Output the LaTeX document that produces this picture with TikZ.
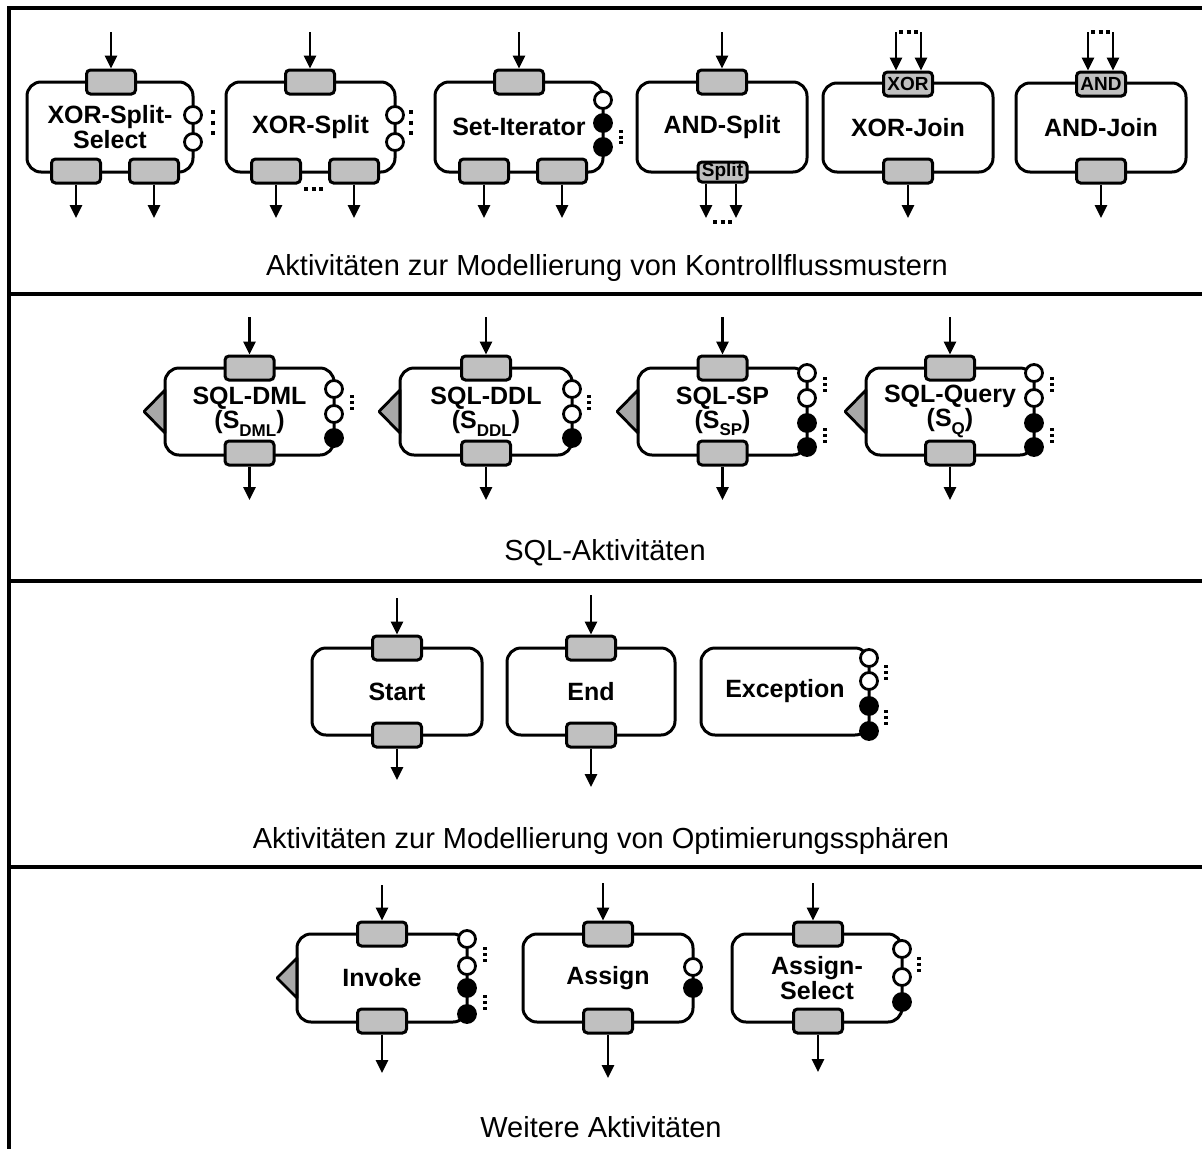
\documentclass[tikz,border=0pt]{standalone}
\usepackage{fontspec}
\setmainfont{Liberation Sans}
\usetikzlibrary{arrows.meta}

\definecolor{portgray}{HTML}{C0C0C0}
\definecolor{tipgray}{HTML}{A8A8A8}

% lowered index text, e.g. S_DML
\newcommand\lowidx[1]{\raisebox{-0.3em}{\fontsize{17}{17}\selectfont #1}}

\tikzset{
  frame/.style={line width=3.2pt},
  body/.style={draw, line width=3pt, rounded corners=14pt, inner sep=0pt,
    align=center, font=\bfseries\fontsize{25}{23}\selectfont},
  port/.style={draw, fill=portgray, line width=3pt, rounded corners=4pt,
    minimum width=49pt, minimum height=24pt, inner sep=0pt,
    font=\bfseries\fontsize{19}{19}\selectfont},
  flow/.style={line width=2.6pt, -{Triangle[length=13pt,width=12pt]}},
  wcirc/.style={circle, draw, fill=white, line width=2.8pt, minimum size=17pt, inner sep=0pt},
  bcirc/.style={wcirc, fill=black},
  bigdots/.style={line width=4pt, dash pattern=on 4pt off 6.5pt},
  hdots/.style={line width=4pt, dash pattern=on 4pt off 3.5pt},
  smalldots/.style={line width=3.2pt, dash pattern=on 3pt off 3pt},
  service/.style={draw, fill=tipgray, line width=2.8pt, line join=round},
  caption/.style={font=\fontsize{29}{31}\selectfont},
}

\begin{document}
\begin{tikzpicture}[x=1pt, y=-1pt]
\useasboundingbox (0,0) rectangle (1202,1149);

% ---------- frame and section rules ----------
\draw[frame] (1202,8) -- (9,8) -- (9,1149);
\draw[frame] (9,294) -- (1202,294);
\draw[frame] (9,581) -- (1202,581);
\draw[frame] (9,867) -- (1202,867);

% ================= control flow patterns =================
% XOR-Split-Select
\node[body, minimum width=166pt, minimum height=90pt] (xss) at (110,127) {XOR-Split-\\Select};
\node[port] (xss-in) at (111,82) {};
\node[port] (xss-o1) at (76,171) {};
\node[port] (xss-o2) at (154,171) {};
\node[wcirc] (xss-c1) at (193,115) {};
\node[wcirc] (xss-c2) at (193,142) {};
\coordinate (xss-src) at (111,32);
\coordinate (xss-t1) at (76,218);
\coordinate (xss-t2) at (154,218);
\draw[flow] (xss-src) -- (xss-in);
\draw[flow] (xss-o1) -- (xss-t1);
\draw[flow] (xss-o2) -- (xss-t2);
\draw[bigdots] (213,110) -- (213,135);

% XOR-Split
\node[body, minimum width=169pt, minimum height=90pt] (xs) at (310.5,127) {XOR-Split};
\node[port] (xs-in) at (310,82) {};
\node[port] (xs-o1) at (276,171) {};
\node[port] (xs-o2) at (354,171) {};
\node[wcirc] (xs-c1) at (395,115) {};
\node[wcirc] (xs-c2) at (395,142) {};
\coordinate (xs-src) at (310,32);
\coordinate (xs-t1) at (276,218);
\coordinate (xs-t2) at (354,218);
\draw[flow] (xs-src) -- (xs-in);
\draw[flow] (xs-o1) -- (xs-t1);
\draw[flow] (xs-o2) -- (xs-t2);
\draw[bigdots] (411,110) -- (411,135);
\draw[hdots] (304,189) -- (323,189);

% Set-Iterator
\node[body, minimum width=168pt, minimum height=90pt] (si) at (519,127) {Set-Iterator};
\node[port] (si-in) at (519,82) {};
\node[port] (si-o1) at (484,171) {};
\node[port] (si-o2) at (562,171) {};
\node[wcirc] (si-c1) at (603,100) {};
\node[bcirc] (si-c2) at (603,123) {};
\node[bcirc] (si-c3) at (603,147) {};
\coordinate (si-src) at (519,32);
\coordinate (si-t1) at (484,218);
\coordinate (si-t2) at (562,218);
\draw[flow] (si-src) -- (si-in);
\draw[flow] (si-o1) -- (si-t1);
\draw[flow] (si-o2) -- (si-t2);
\draw[line width=3.5pt, dash pattern=on 3pt off 2.5pt] (621,130) -- (621,144);

% AND-Split
\node[body, minimum width=170pt, minimum height=90pt] (as) at (722,127) {AND-Split};
\node[port] (as-in) at (722,82) {};
\node[port, minimum height=20pt] (as-out) at (722.5,172) {Split};
\coordinate (as-src) at (722,32);
\coordinate (as-t1) at (706,218);
\coordinate (as-t2) at (736,218);
\draw[flow] (as-src) -- (as-in);
\draw[flow] (as-out.south -| as-t1) -- (as-t1);
\draw[flow] (as-out.south -| as-t2) -- (as-t2);
\draw[hdots] (713,222) -- (732,222);

% XOR-Join
\node[body, minimum width=170pt, minimum height=89pt] (xj) at (908,127.5) {XOR-Join};
\node[port] (xj-in) at (908,84) {XOR};
\node[port] (xj-out) at (908,171) {};
\coordinate (xj-s1) at (896,32);
\coordinate (xj-s2) at (921,32);
\coordinate (xj-t) at (908,218);
\draw[flow] (xj-s1) -- (xj-s1 |- xj-in.north);
\draw[flow] (xj-s2) -- (xj-s2 |- xj-in.north);
\draw[hdots, shorten <=3pt, shorten >=3pt] (xj-s1) -- (xj-s2);
\draw[flow] (xj-out) -- (xj-t);

% AND-Join
\node[body, minimum width=170pt, minimum height=89pt] (aj) at (1101,127.5) {AND-Join};
\node[port] (aj-in) at (1101,84) {AND};
\node[port] (aj-out) at (1101,171) {};
\coordinate (aj-s1) at (1088,32);
\coordinate (aj-s2) at (1113,32);
\coordinate (aj-t) at (1101,218);
\draw[flow] (aj-s1) -- (aj-s1 |- aj-in.north);
\draw[flow] (aj-s2) -- (aj-s2 |- aj-in.north);
\draw[hdots, shorten <=3pt, shorten >=3pt] (aj-s1) -- (aj-s2);
\draw[flow] (aj-out) -- (aj-t);

\node[caption] (cap1) at (607,268) {Aktivitäten zur Modellierung von Kontrollflussmustern};

% ================= SQL activities =================
% SQL-DML
\filldraw[service] (165,390) -- (144,411.5) -- (165,433) -- cycle;
\node[body, minimum width=169pt, minimum height=87pt] (dml) at (249.5,411.5) {SQL-DML\\(S\lowidx{DML})};
\node[port] (dml-in) at (249.5,368) {};
\node[port] (dml-out) at (249.5,453) {};
\node[wcirc] (dml-c1) at (334,389) {};
\node[wcirc] (dml-c2) at (334,414) {};
\node[bcirc] (dml-c3) at (334,438) {};
\coordinate (dml-src) at (249.5,317);
\coordinate (dml-t) at (249.5,500);
\draw[flow] (dml-src) -- (dml-in);
\draw[flow] (dml-out) -- (dml-t);
\draw[smalldots] (352,395) -- (352,410);

% SQL-DDL
\filldraw[service] (400,390) -- (379,411.5) -- (400,433) -- cycle;
\node[body, minimum width=172pt, minimum height=87pt] (ddl) at (486,411.5) {SQL-DDL\\(S\lowidx{DDL})};
\node[port] (ddl-in) at (486,368) {};
\node[port] (ddl-out) at (486,453) {};
\node[wcirc] (ddl-c1) at (572,389) {};
\node[wcirc] (ddl-c2) at (572,414) {};
\node[bcirc] (ddl-c3) at (572,438) {};
\coordinate (ddl-src) at (486,317);
\coordinate (ddl-t) at (486,500);
\draw[flow] (ddl-src) -- (ddl-in);
\draw[flow] (ddl-out) -- (ddl-t);
\draw[smalldots] (589,395) -- (589,410);

% SQL-SP
\filldraw[service] (638,390) -- (617,411.5) -- (638,433) -- cycle;
\node[body, minimum width=169pt, minimum height=87pt] (sp) at (722.5,411.5) {SQL-SP\\(S\lowidx{SP})};
\node[port] (sp-in) at (722.5,368) {};
\node[port] (sp-out) at (722.5,453) {};
\node[wcirc] (sp-c1) at (807,373) {};
\node[wcirc] (sp-c2) at (807,398) {};
\node[bcirc] (sp-c3) at (807,423) {};
\node[bcirc] (sp-c4) at (807,447) {};
\coordinate (sp-src) at (722.5,317);
\coordinate (sp-t) at (722.5,500);
\draw[flow] (sp-src) -- (sp-in);
\draw[flow] (sp-out) -- (sp-t);
\draw[smalldots] (825,377) -- (825,392);
\draw[smalldots] (825,428) -- (825,443);

% SQL-Query
\filldraw[service] (866,390) -- (845,411.5) -- (866,433) -- cycle;
\node[body, minimum width=168pt, minimum height=87pt] (sq) at (950,411.5) {SQL-Query\\(S\lowidx{Q})};
\node[port] (sq-in) at (950,368) {};
\node[port] (sq-out) at (950,453) {};
\node[wcirc] (sq-c1) at (1034,373) {};
\node[wcirc] (sq-c2) at (1034,398) {};
\node[bcirc] (sq-c3) at (1034,423) {};
\node[bcirc] (sq-c4) at (1034,447) {};
\coordinate (sq-src) at (950,317);
\coordinate (sq-t) at (950,500);
\draw[flow] (sq-src) -- (sq-in);
\draw[flow] (sq-out) -- (sq-t);
\draw[smalldots] (1052,377) -- (1052,392);
\draw[smalldots] (1052,428) -- (1052,443);

\node[caption] (cap2) at (605,553) {SQL-Aktivitäten};

% ================= optimization spheres =================
% Start
\node[body, minimum width=170pt, minimum height=87pt] (st) at (397,691.5) {Start};
\node[port] (st-in) at (397,648) {};
\node[port] (st-out) at (397,735) {};
\coordinate (st-src) at (397,598);
\coordinate (st-t) at (397,780);
\draw[flow] (st-src) -- (st-in);
\draw[flow] (st-out) -- (st-t);

% End
\node[body, minimum width=168pt, minimum height=87pt] (en) at (591,691.5) {End};
\node[port] (en-in) at (591,648) {};
\node[port] (en-out) at (591,735) {};
\coordinate (en-src) at (591,595);
\coordinate (en-t) at (591,787);
\draw[flow] (en-src) -- (en-in);
\draw[flow] (en-out) -- (en-t);

% Exception
\node[body, minimum width=168pt, minimum height=87pt] (ex) at (785,691.5) {Exception};
\node[wcirc] (ex-c1) at (869,658) {};
\node[wcirc] (ex-c2) at (869,681) {};
\node[bcirc] (ex-c3) at (869,706) {};
\node[bcirc] (ex-c4) at (869,731) {};
\draw[smalldots] (886,665) -- (886,680);
\draw[smalldots] (886,710) -- (886,725);

\node[caption] (cap3) at (601,841) {Aktivitäten zur Modellierung von Optimierungssphären};

% ================= further activities =================
% Invoke
\filldraw[service] (297,958) -- (277,978) -- (297,998) -- cycle;
\node[body, minimum width=170pt, minimum height=88pt] (inv) at (382,978) {Invoke};
\node[port] (inv-in) at (382,934) {};
\node[port] (inv-out) at (382,1021) {};
\node[wcirc] (inv-c1) at (467,939) {};
\node[wcirc] (inv-c2) at (467,966) {};
\node[bcirc] (inv-c3) at (467,988) {};
\node[bcirc] (inv-c4) at (467,1014) {};
\coordinate (inv-src) at (382,885);
\coordinate (inv-t) at (382,1073);
\draw[flow] (inv-src) -- (inv-in);
\draw[flow] (inv-out) -- (inv-t);
\draw[smalldots] (485,947) -- (485,962);
\draw[smalldots] (485,995) -- (485,1010);

% Assign
\node[body, minimum width=170pt, minimum height=88pt] (asg) at (608,978) {Assign};
\node[port] (asg-in) at (608,934) {};
\node[port] (asg-out) at (608,1021) {};
\node[wcirc] (asg-c1) at (693,967) {};
\node[bcirc] (asg-c2) at (693,988) {};
\coordinate (asg-src) at (603,883);
\coordinate (asg-t) at (608,1078);
\draw[flow] (asg-src) -- (asg-src |- asg-in.north);
\draw[flow] (asg-out) -- (asg-t);

% Assign-Select
\node[body, minimum width=170pt, minimum height=88pt] (asl) at (817,978) {Assign-\\Select};
\node[port] (asl-in) at (818,934) {};
\node[port] (asl-out) at (818,1021) {};
\node[wcirc] (asl-c1) at (902,949) {};
\node[wcirc] (asl-c2) at (902,977) {};
\node[bcirc] (asl-c3) at (902,1002) {};
\coordinate (asl-src) at (813,883);
\coordinate (asl-t) at (818,1072);
\draw[flow] (asl-src) -- (asl-src |- asl-in.north);
\draw[flow] (asl-out) -- (asl-t);
\draw[smalldots] (919,957) -- (919,972);

\node[caption] (cap4) at (601,1127) {Weitere Aktivitäten};

\end{tikzpicture}
\end{document}
